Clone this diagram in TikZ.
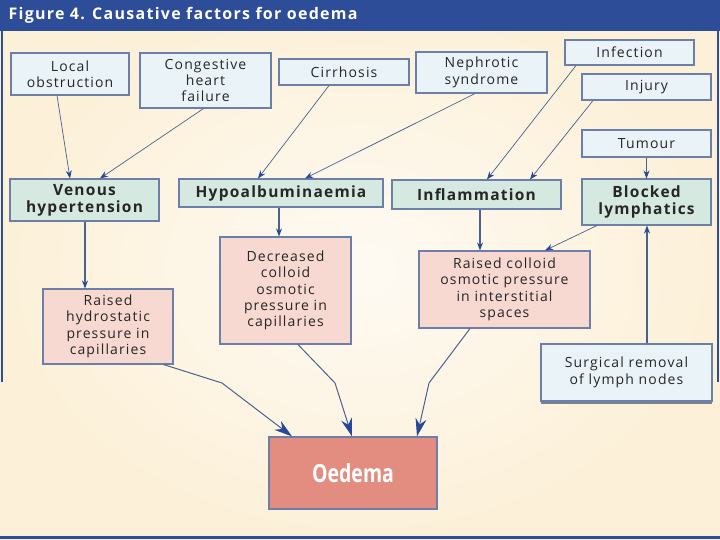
\documentclass[tikz,border=0pt]{standalone}
\usepackage{fontspec}
\setmainfont{Open Sans}[LetterSpace=8]
\newfontfamily\oedfont[FakeStretch=0.78]{Open Sans}
\usetikzlibrary{arrows.meta,positioning,shadows}
\definecolor{barblue}{HTML}{2D4D99}
\definecolor{edgeblue}{HTML}{6B7FA8}
\definecolor{lineblue}{HTML}{4A628F}
\definecolor{headblue}{HTML}{27479A}
\definecolor{causefill}{HTML}{EAF4F8}
\definecolor{statefill}{HTML}{D6E9E1}
\definecolor{pressfill}{HTML}{F7D9D1}
\definecolor{oedfill}{HTML}{E38D80}
\definecolor{cream}{HTML}{FCF0D8}
\definecolor{textgrey}{HTML}{262626}
\begin{document}
\begin{tikzpicture}[x=1pt,y=-1pt,
  box/.style={draw=edgeblue,line width=1.1pt,align=center,inner sep=2pt,text=textgrey,font=\fontsize{14}{16.3}\selectfont},
  cause/.style={box,fill=causefill},
  state/.style={box,fill=statefill,font=\fontsize{15.5}{17}\selectfont\bfseries},
  press/.style={box,fill=pressfill},
  link/.style={draw=lineblue,line width=0.7pt,-{Stealth[length=8pt,width=6pt,color=headblue]}},
  biglink/.style={draw=lineblue,line width=1pt,-{Stealth[length=18pt,width=11pt,color=headblue]}}]
\useasboundingbox (0,0) rectangle (720,540);
% page
\shade[inner color=white!70!cream,outer color=cream] (0,0) rectangle (720,540);
\fill[barblue] (0,0) rectangle (720,31);
\node[anchor=west,text=white,font=\fontsize{16}{18}\selectfont\bfseries] (title) at (5,15) {Figure 4. Causative factors for oedema};
\draw[barblue,line width=2.5pt] (2,31)--(2,382);\draw[barblue,line width=2.5pt] (718,31)--(718,382);\draw[barblue,line width=3pt] (0,537)--(720,537);
% causes
\node[cause,minimum width=118pt,minimum height=42pt] (lob) at (70,74) {Local\\obstruction};
\node[cause,minimum width=131pt,minimum height=55pt] (chf) at (205.5,80.5) {Congestive\\heart\\failure};
\node[cause,minimum width=130pt,minimum height=26pt] (cirr) at (344,72) {Cirrhosis};
\node[cause,minimum width=131pt,minimum height=41pt] (neph) at (481.5,72.5) {Nephrotic\\syndrome};
\node[cause,minimum width=129pt,minimum height=25pt] (infc) at (629.5,52.5) {Infection};
\node[cause,minimum width=129pt,minimum height=26pt] (inj) at (646.5,87) {Injury};
\node[cause,minimum width=129pt,minimum height=27pt] (tum) at (646.5,143.5) {Tumour};
% states
\node[state,minimum width=149pt,minimum height=42pt] (ven) at (84.5,200) {Venous\\hypertension};
\node[state,minimum width=204pt,minimum height=28pt] (hypo) at (281,193) {Hypoalbuminaemia};
\node[state,minimum width=169pt,minimum height=29pt] (infl) at (476.5,194.5) {Inflammation};
\node[state,minimum width=129pt,minimum height=46pt] (blk) at (646.5,202) {Blocked\\lymphatics};
% pressures
\node[press,minimum width=130pt,minimum height=75pt] (hyd) at (108,326.5) {Raised\\hydrostatic\\pressure in\\capillaries};
\node[press,minimum width=131pt,minimum height=107pt] (dcop) at (285.5,290.5) {Decreased\\colloid\\osmotic\\pressure in\\capillaries};
\node[press,minimum width=171pt,minimum height=77pt] (rcop) at (504.5,289.5) {Raised colloid\\osmotic pressure\\in interstitial\\spaces};
\node[cause,minimum width=171pt,minimum height=57pt,drop shadow={shadow xshift=0pt,shadow yshift=-2.5pt,fill=edgeblue!80!black,opacity=0.8}] (surg) at (626.5,372.5) {Surgical removal\\of lymph nodes};
\node[draw=edgeblue,line width=1.3pt,fill=oedfill,minimum width=168pt,minimum height=72pt,text=white,font=\oedfont\fontsize{25}{28}\selectfont\bfseries] (oed) at (353,473) {Oedema};
\coordinate (k1) at (222,383);\coordinate (k2) at (335,383);\coordinate (k3) at (429,383);
% connectors
\draw[link] ([xshift=-13pt]lob.south)--([xshift=-14.5pt]ven.north);\draw[link] ([xshift=-2pt]chf.south)--([xshift=15.5pt]ven.north);
\draw[link] ([xshift=-15pt]cirr.south)--([xshift=-23pt]hypo.north);\draw[link] ([xshift=-6.5pt]neph.south)--([xshift=24pt]hypo.north);
\draw[link] ([xshift=-53.5pt]infc.south)--([xshift=10.5pt]infl.north);\draw[link] ([xshift=-53.5pt]inj.south)--([xshift=53.5pt]infl.north);
\draw[link] (tum)--(blk);\draw[link,line width=1.2pt] ([xshift=0.5pt]ven.south)--([xshift=-23pt]hyd.north);
\draw[link,line width=1.2pt] ([xshift=-2pt]hypo.south)--([xshift=-6.5pt]dcop.north);\draw[link,line width=1.2pt] ([xshift=3.5pt]infl.south)--([xshift=-24.5pt]rcop.north);
\draw[link] ([xshift=-49.5pt]blk.south)--([xshift=40.5pt]rcop.north);\draw[link,line width=1.2pt] ([xshift=20.5pt]surg.north)--([xshift=0.5pt]blk.south);
\draw[biglink] ([xshift=-10pt]hyd.south east)--(k1)--([xshift=-61pt]oed.north);\draw[biglink] ([xshift=12.5pt]dcop.south)--(k2)--([xshift=-1pt]oed.north);\draw[biglink] ([xshift=-34.5pt]rcop.south)--(k3)--([xshift=64pt]oed.north);
\end{tikzpicture}
\end{document}
